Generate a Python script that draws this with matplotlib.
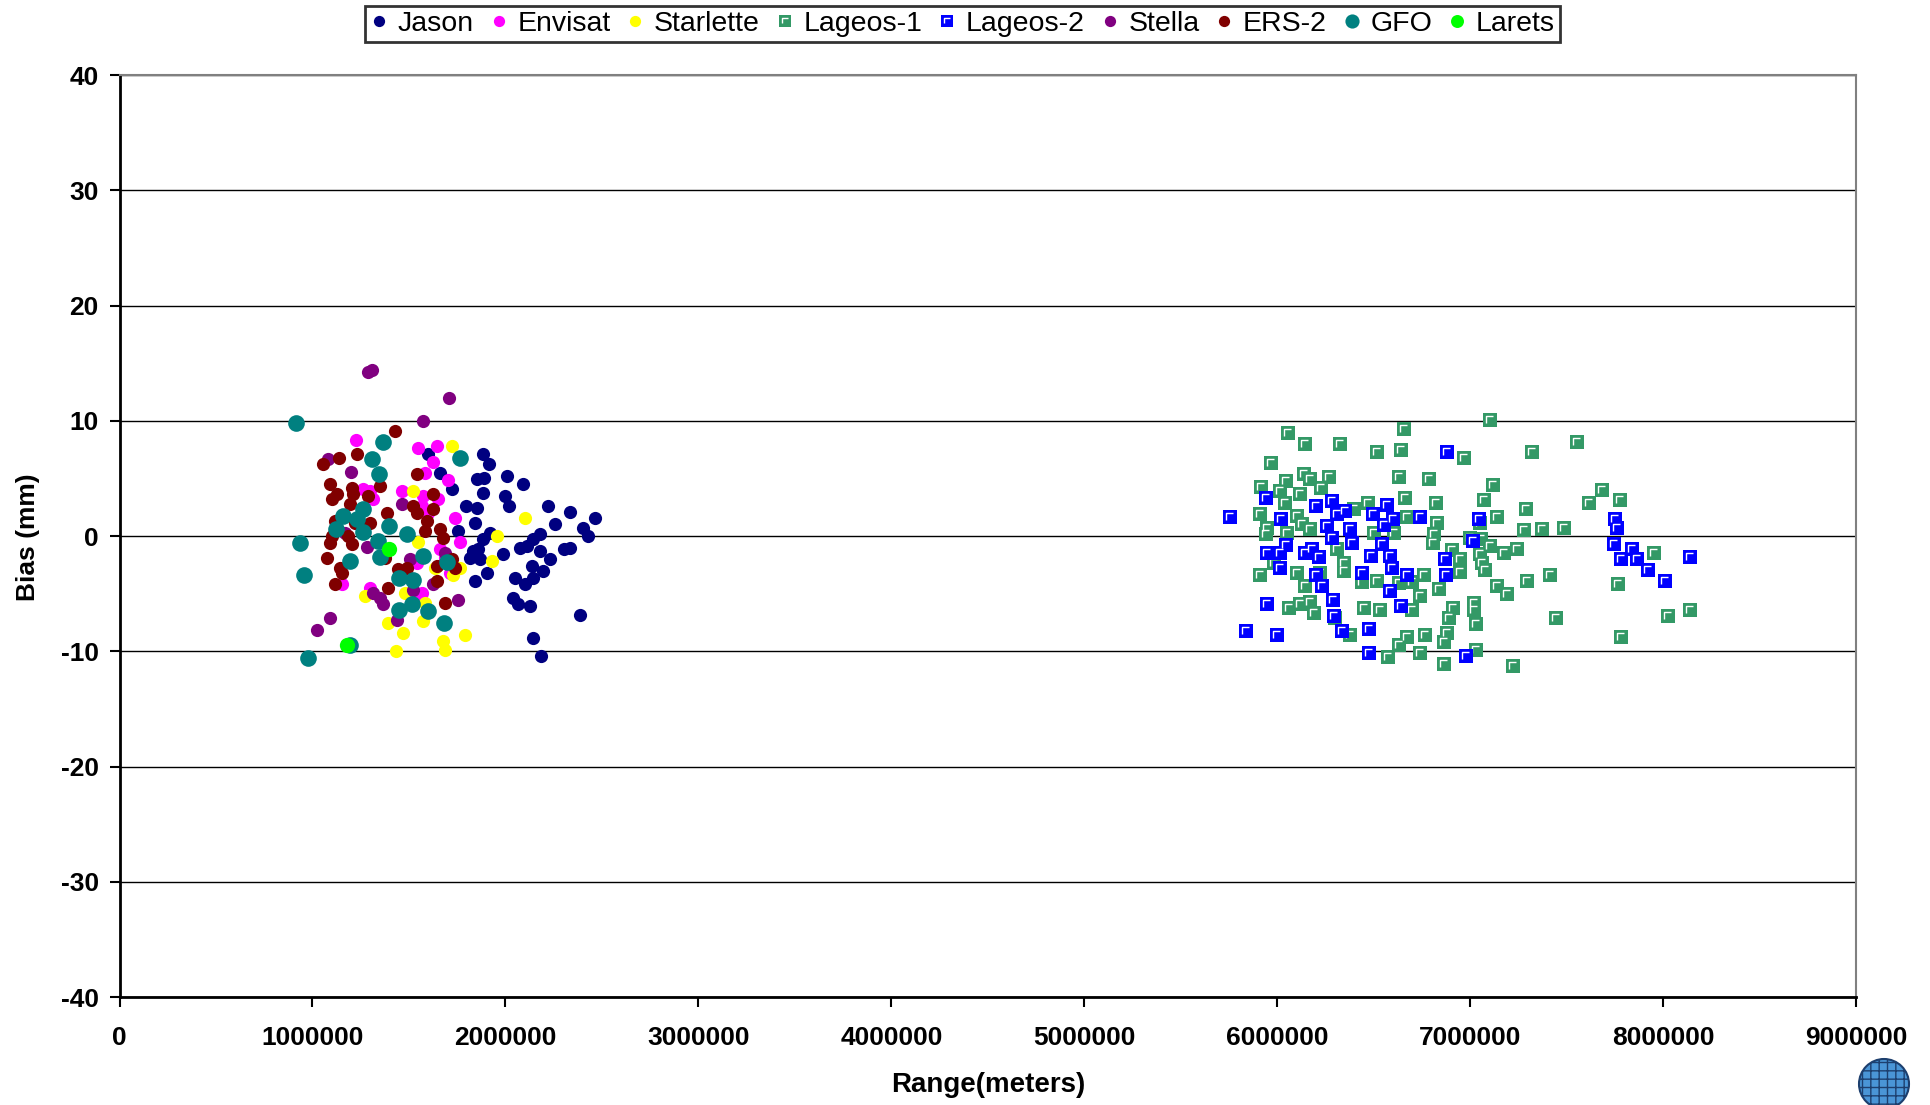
import numpy as np
import matplotlib
matplotlib.use("Agg")
import matplotlib.pyplot as plt
from matplotlib.path import Path
from matplotlib.patches import Ellipse

plt.rcParams['font.family'] = ['Liberation Sans', 'DejaVu Sans']
plt.rcParams['axes.unicode_minus'] = False

# ── Data: range in units of 1e6 m, bias in mm ────────────────────────────────
jason_x = [1.601, 1.661, 1.722, 1.886, 1.917, 1.851, 1.889, 2.007, 2.090, 1.882,
           1.998, 2.016, 1.796, 1.851, 2.223, 2.335, 2.465, 2.257, 2.404, 2.430,
           1.843, 1.920, 1.756, 1.886, 2.145, 2.180, 2.111, 2.301, 2.335, 1.834,
           1.869, 1.990, 2.076, 2.180, 2.232, 1.903, 1.843, 2.050, 2.102, 2.145,
           2.197, 2.137, 2.041, 2.067, 2.128, 2.387, 2.145, 2.183, 1.817, 1.860]
jason_y = [7.1, 5.5, 4.06, 7.1, 6.23, 4.93, 5.07, 5.22, 4.49, 3.77,
           3.48, 2.61, 2.61, 2.46, 2.61, 2.09, 1.59, 1.01, 0.72, 0.0,
           1.16, 0.29, 0.43, -0.29, -0.29, 0.14, -0.87, -1.16, -1.01, -1.30,
           -2.03, -1.59, -1.01, -1.30, -2.03, -3.19, -3.91, -3.62, -4.20, -3.62,
           -3.04, -2.61, -5.36, -5.94, -6.09, -6.81, -8.84, -10.43, -1.88, -1.16]

envisat_x = [1.226, 1.546, 1.647, 1.627, 1.704, 1.584, 1.463, 1.575, 1.653, 1.264,
             1.298, 1.316, 1.566, 1.601, 1.739, 1.762, 1.661, 1.687, 1.713, 1.540,
             1.298, 1.152, 1.566, 1.540]
envisat_y = [8.35, 7.68, 7.83, 6.43, 4.87, 5.51, 3.91, 3.48, 3.19, 4.06,
             3.91, 3.19, 2.61, 2.03, 1.59, -0.52, -1.16, -1.88, -3.19, -2.32,
             -4.49, -4.20, -4.93, -5.51]

starlette_x = [1.722, 1.523, 2.102, 1.955, 1.929, 1.549, 1.635, 1.730, 1.765, 1.272,
               1.480, 1.584, 1.393, 1.575, 1.471, 1.679, 1.791, 1.687, 1.433]
starlette_y = [7.83, 3.91, 1.59, 0.0, -2.17, -0.52, -2.75, -3.42, -2.75, -5.16,
               -4.93, -5.80, -7.54, -7.39, -8.41, -9.13, -8.55, -9.86, -10.0]

lageos1_x = [7.104, 6.655, 6.054, 6.145, 6.323, 6.517, 6.641, 6.966, 7.320, 7.554,
             5.969, 6.137, 6.171, 6.266, 6.047, 5.916, 6.016, 6.116, 6.227, 6.629,
             6.786, 7.118, 7.073, 7.683, 7.616, 7.775, 7.291, 7.139, 6.821, 6.662,
             6.468, 6.396, 5.909, 6.042, 5.947, 5.943, 6.050, 6.102, 6.128, 6.171,
             6.672, 6.828, 6.811, 6.807, 6.603, 6.500, 7.281, 7.374, 7.485, 7.053,
             7.001, 7.056, 7.104, 6.904, 7.177, 7.243, 7.053, 7.061, 6.949, 6.949,
             7.078, 7.951, 7.765, 7.415, 7.294, 6.759, 6.698, 6.629, 6.517, 6.439,
             6.344, 6.344, 6.310, 6.223, 6.145, 6.102, 5.909, 5.981, 6.059, 6.119,
             6.171, 6.192, 6.301, 6.448, 6.531, 6.698, 6.738, 6.837, 7.139, 7.191,
             6.911, 7.018, 7.021, 6.888, 7.028, 7.443, 7.782, 8.024, 8.141, 6.379,
             6.672, 6.766, 6.880, 6.862, 6.629, 6.572, 6.738, 7.028, 6.862, 7.222]
lageos1_y = [10.09, 9.33, 8.93, 7.97, 7.97, 7.25, 7.48, 6.81, 7.25, 8.17,
             6.32, 5.36, 4.93, 5.16, 4.78, 4.29, 3.91, 3.62, 4.20, 5.16,
             4.93, 4.46, 3.13, 4.00, 2.84, 3.10, 2.38, 1.68, 2.84, 3.30,
             2.84, 2.32, 1.88, 2.84, 0.72, 0.14, 0.29, 1.74, 1.01, 0.58,
             1.68, 1.16, 0.14, -0.64, 0.29, 0.29, 0.52, 0.64, 0.72, 1.16,
             -0.14, -0.29, -0.87, -1.22, -1.45, -1.10, -1.59, -2.32, -2.03, -3.13,
             -2.96, -1.45, -4.12, -3.42, -3.88, -3.42, -4.00, -4.06, -3.88, -4.00,
             -2.32, -3.04, -1.16, -3.19, -4.35, -3.19, -3.42, -2.32, -6.23, -5.94,
             -5.74, -6.67, -7.10, -6.23, -6.43, -6.43, -5.22, -4.58, -4.35, -5.04,
             -6.23, -5.80, -6.43, -7.10, -7.59, -7.13, -8.75, -6.90, -6.43, -8.55,
             -8.75, -8.55, -8.41, -9.22, -9.42, -10.49, -10.14, -9.91, -11.07, -11.30]

lageos2_x = [5.757, 5.943, 6.019, 6.199, 6.284, 6.310, 6.353, 6.379, 6.258, 6.284,
             6.387, 6.496, 6.569, 6.600, 6.555, 6.543, 6.742, 6.880, 7.044, 7.015,
             7.752, 7.761, 7.747, 7.839, 7.782, 7.865, 7.920, 8.012, 8.141, 6.047,
             5.947, 6.016, 6.145, 6.180, 6.214, 6.012, 6.486, 6.586, 6.595, 6.439,
             6.202, 6.232, 6.672, 6.871, 6.876, 6.586, 6.289, 6.296, 6.641, 5.947,
             5.840, 5.998, 6.335, 6.474, 6.474, 6.980]
lageos2_y = [1.68, 3.30, 1.45, 2.61, 3.04, 1.88, 2.17, 0.58, 0.87, -0.14,
             -0.64, 1.88, 2.67, 1.51, 0.93, -0.72, 1.68, 7.25, 1.45, -0.43,
             1.45, 0.72, -0.72, -1.10, -2.03, -2.03, -2.96, -3.91, -1.80, -0.81,
             -1.51, -1.51, -1.45, -1.16, -1.80, -2.75, -1.74, -1.74, -2.75, -3.19,
             -3.42, -4.35, -3.42, -2.03, -3.42, -4.78, -5.51, -6.96, -6.09, -5.86,
             -8.26, -8.55, -8.26, -8.06, -10.14, -10.38]

stella_x = [1.290, 1.310, 1.710, 1.575, 1.082, 1.198, 1.463, 1.169, 1.281, 1.316,
            1.350, 1.368, 1.091, 1.022, 1.437, 1.523, 1.756, 1.627, 1.506, 1.687]
stella_y = [14.26, 14.4, 11.94, 10.0, 6.72, 5.57, 2.75, 0.29, -0.93, -4.93,
            -5.36, -5.94, -7.10, -8.12, -7.25, -4.64, -5.51, -4.20, -2.03, -1.45]

ers2_x = [1.428, 1.139, 1.229, 1.056, 1.091, 1.126, 1.100, 1.203, 1.212, 1.195,
          1.290, 1.350, 1.540, 1.623, 1.523, 1.627, 1.385, 1.592, 1.584, 1.661,
          1.679, 1.298, 1.221, 1.117, 1.100, 1.091, 1.186, 1.203, 1.074, 1.143,
          1.152, 1.117, 1.376, 1.445, 1.488, 1.644, 1.644, 1.722, 1.739, 1.393,
          1.687, 1.540]
ers2_y = [9.13, 6.81, 7.10, 6.23, 4.49, 3.62, 3.19, 4.20, 3.62, 2.75,
          3.48, 4.35, 5.36, 3.62, 2.61, 2.32, 2.03, 1.30, 0.43, 0.58,
          -0.14, 1.16, 1.16, 1.30, 0.0, -0.58, 0.0, -0.72, -1.88, -2.75,
          -3.19, -4.20, -1.88, -2.90, -2.75, -2.61, -3.91, -2.03, -2.75, -4.49,
          -5.80, 2.03]

gfo_x = [0.915, 1.368, 1.307, 1.762, 1.347, 1.264, 1.157, 1.233, 1.122, 1.260,
         1.399, 1.488, 1.342, 0.936, 1.195, 1.350, 1.575, 1.696, 0.956, 1.450,
         1.523, 1.450, 1.514, 1.601, 1.682, 0.979, 1.195]
gfo_y = [9.80, 8.17, 6.67, 6.81, 5.36, 2.38, 1.74, 1.45, 0.58, 0.35,
         0.87, 0.14, -0.43, -0.58, -2.17, -1.80, -1.74, -2.26, -3.42, -3.62,
         -3.83, -6.38, -5.94, -6.52, -7.54, -10.58, -9.42]

larets_x = [1.399, 1.181]
larets_y = [-1.10, -9.42]

series = [
    ("Jason",     jason_x,     jason_y,     "#000080", "o", 9.5),
    ("Envisat",   envisat_x,   envisat_y,   "#FF00FF", "o", 9.5),
    ("Starlette", starlette_x, starlette_y, "#FFFF00", "o", 9.5),
    ("Lageos-1",  lageos1_x,   lageos1_y,   "#339966", "s", 10.5),
    ("Lageos-2",  lageos2_x,   lageos2_y,   "#0000FF", "s", 10.5),
    ("Stella",    stella_x,    stella_y,    "#800080", "o", 9.5),
    ("ERS-2",     ers2_x,      ers2_y,      "#800000", "o", 9.5),
    ("GFO",       gfo_x,       gfo_y,       "#008080", "o", 12.0),
    ("Larets",    larets_x,    larets_y,    "#00FF00", "o", 11.0),
]

# white "corner" highlight drawn inside the square markers (Excel style)
corner = Path([(-1, -1), (1, 1), (-0.5, -0.4), (-0.5, 0.5), (0.45, 0.5)],
              [Path.MOVETO, Path.MOVETO, Path.MOVETO, Path.LINETO, Path.LINETO])

fig = plt.figure(figsize=(19.31, 11.05), dpi=100)
ax = fig.add_axes([0.0619, 0.0977, 0.8993, 0.8344])

handles = []
for name, xs, ys, col, mk, ms in series:
    x_m = np.array(xs) * 1e6
    ln, = ax.plot(x_m, ys, linestyle='none', marker=mk, color=col,
                  markersize=ms, markeredgewidth=0, label=name, zorder=3)
    if mk == 's':
        cn, = ax.plot(x_m, ys, linestyle='none', marker=corner, markersize=ms,
                      markerfacecolor='none', markeredgecolor='white',
                      markeredgewidth=1.0, zorder=3)
        handles.append((ln, cn))
    else:
        handles.append(ln)

ax.set_xlim(0, 9e6)
ax.set_ylim(-40, 40)
ax.set_xticks(np.arange(0, 9e6 + 1, 1e6))
ax.set_yticks(np.arange(-40, 41, 10))
ax.ticklabel_format(axis='x', style='plain', useOffset=False)
ax.grid(axis='y', color='black', linewidth=1.0)
ax.set_axisbelow(True)

for s in ('left', 'bottom'):
    ax.spines[s].set_color('black')
    ax.spines[s].set_linewidth(2.0)
for s in ('top', 'right'):
    ax.spines[s].set_color('#808080')
    ax.spines[s].set_linewidth(1.5)

ax.tick_params(axis='both', direction='out', length=7, width=1.5,
               labelsize=19)
ax.tick_params(axis='x', pad=14)
ax.tick_params(axis='y', pad=8)
for lab in ax.get_xticklabels() + ax.get_yticklabels():
    lab.set_fontweight('bold')

fig.text(988 / 1931, 1 - 1085 / 1105, "Range(meters)", ha='center',
         va='center', fontsize=20, fontweight='bold')
fig.text(28 / 1931, 1 - 537 / 1105, "Bias (mm)", ha='center', va='center',
         rotation=90, fontsize=19, fontweight='bold')

leg = fig.legend(handles, [s[0] for s in series], loc='upper center',
                 bbox_to_anchor=(0.4985, 0.9946), ncol=9, fontsize=20.5,
                 frameon=True, fancybox=False, edgecolor='black',
                 borderpad=0.18, handlelength=0.6, handletextpad=0.35,
                 columnspacing=0.58, borderaxespad=0, markerscale=0.85)
leg.get_frame().set_linewidth(2.0)

# small globe logo in the lower right corner
fig.patches.append(Ellipse((1884 / 1931, 1 - 1084 / 1105), 50 / 1931,
                           50 / 1105, transform=fig.transFigure,
                           facecolor='#4a95d6', edgecolor='#1d3f6e',
                           linewidth=1.5, hatch='++', zorder=5))

fig.savefig('out.png', dpi=100)
